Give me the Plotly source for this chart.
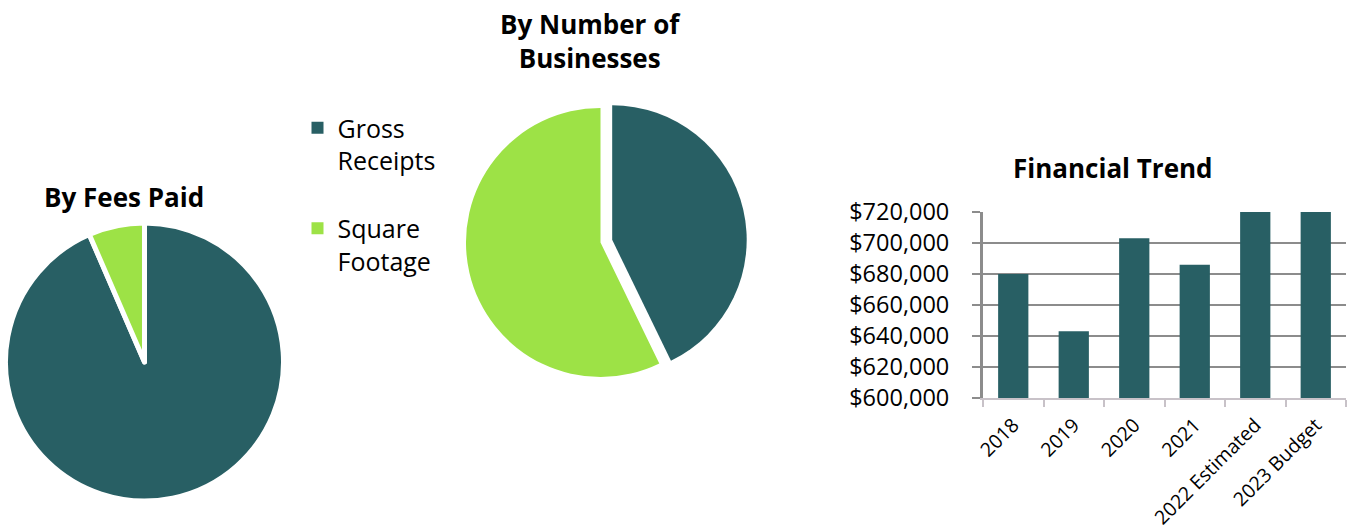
import plotly.graph_objects as go

W, H = 1348, 531

# Share of licence fees and of business count by licence basis
basis_labels = ["Gross<br>Receipts<br>\u00a0", "Square<br>Footage<br>\u00a0"]
fees_share = [93.5, 6.5]
business_share = [42.8, 57.2]

# Annual revenue trend
years = ["2018", "2019", "2020", "2021", "2022 Estimated", "2023 Budget"]
revenue = [680000, 643000, 703000, 686000, 725000, 728000]

TEAL = "#285F64"
LIME = "#9DE246"
GRID = "#8C8C8C"
AXIS_X = "#C8C2C8"
FONT = "Open Sans"


def px_x(x):
    return x / W


def px_y(y):
    return 1 - y / H


fig = go.Figure()

# Left pie: by fees paid
fig.add_trace(go.Pie(
    labels=basis_labels,
    values=fees_share,
    sort=False,
    direction="clockwise",
    rotation=0,
    textinfo="none",
    hoverinfo="percent",
    marker=dict(colors=[TEAL, LIME], line=dict(color="white", width=5)),
    domain=dict(x=[px_x(5.5), px_x(283.5)], y=[px_y(501), px_y(223)]),
    showlegend=False,
))

# Middle pie: by number of businesses, gross-receipts slice pulled out
fig.add_trace(go.Pie(
    labels=basis_labels,
    values=business_share,
    sort=False,
    direction="clockwise",
    rotation=0,
    pull=[0.089, 0],
    textinfo="none",
    hoverinfo="percent",
    marker=dict(colors=[TEAL, LIME], line=dict(color="white", width=0)),
    domain=dict(x=[px_x(454), px_x(747)], y=[px_y(389), px_y(96)]),
    showlegend=True,
))

# Right: financial trend bars
fig.add_trace(go.Bar(
    x=years,
    y=revenue,
    marker=dict(color=TEAL, line=dict(width=0)),
    showlegend=False,
    xaxis="x",
    yaxis="y",
))

title_font = dict(family=FONT, size=26, color="black")
annotations = [
    dict(text="<b>By Fees Paid</b>", x=px_x(124), y=px_y(197), xref="paper", yref="paper",
         showarrow=False, xanchor="center", yanchor="middle", font=title_font),
    dict(text="<b>By Number of<br>Businesses</b>", x=px_x(590), y=px_y(41), xref="paper", yref="paper",
         showarrow=False, xanchor="center", yanchor="middle", font=title_font),
    dict(text="<b>Financial Trend</b>", x=px_x(1113), y=px_y(168), xref="paper", yref="paper",
         showarrow=False, xanchor="center", yanchor="middle", font=title_font),
]

fig.update_layout(
    template="none",
    width=W,
    height=H,
    margin=dict(l=0, r=0, t=0, b=0, pad=0, autoexpand=False),
    paper_bgcolor="white",
    plot_bgcolor="white",
    font=dict(family=FONT, size=22, color="black"),
    annotations=annotations,
    bargap=0.5,
    legend=dict(
        x=px_x(297.5), y=px_y(105), xanchor="left", yanchor="top",
        font=dict(family=FONT, size=25, color="black"),
        valign="top",
        bgcolor="rgba(0,0,0,0)",
        borderwidth=0,
    ),
    xaxis=dict(
        type="category",
        domain=[px_x(983), px_x(1346)],
        anchor="y",
        automargin=False,
        showline=True, linecolor=AXIS_X, linewidth=2,
        ticks="outside", tickson="boundaries", ticklen=7, tickwidth=2, tickcolor=AXIS_X,
        tickangle=-45,
        tickfont=dict(family=FONT, size=19.5, color="black"),
        ticklabelstandoff=6,
        showgrid=False,
        zeroline=False,
        fixedrange=True,
    ),
    yaxis=dict(
        domain=[px_y(398), px_y(212)],
        anchor="x",
        automargin=False,
        range=[600000, 720000],
        dtick=20000,
        tickprefix="$",
        tickformat=",",
        showline=True, linecolor=GRID, linewidth=3,
        ticks="outside", ticklen=8, tickwidth=2, tickcolor=GRID,
        showgrid=True, gridcolor=GRID, gridwidth=2,
        zeroline=False,
        tickfont=dict(family=FONT, size=23.5, color="black"),
        ticklabelstandoff=18,
        fixedrange=True,
    ),
)

fig.write_html("out.html")
